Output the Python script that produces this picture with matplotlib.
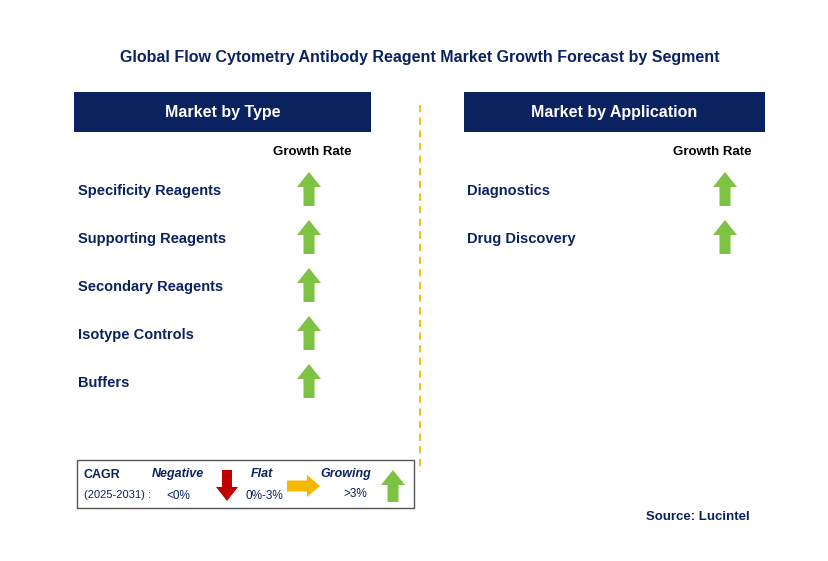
import matplotlib
matplotlib.use("Agg")
import matplotlib.pyplot as plt
from matplotlib.patches import Rectangle, FancyArrow

NAVY = "#0b2260"
GREEN = "#7dc243"
RED = "#c00000"
ORANGE = "#f5b800"

TITLE = "Global Flow Cytometry Antibody Reagent Market Growth Forecast by Segment"
type_labels = ["Specificity Reagents", "Supporting Reagents", "Secondary Reagents",
               "Isotype Controls", "Buffers"]
type_growth = ["up", "up", "up", "up", "up"]
app_labels = ["Diagnostics", "Drug Discovery"]
app_growth = ["up", "up"]

plt.rcParams["font.family"] = "Liberation Sans"

fig = plt.figure(figsize=(8.29, 5.61), dpi=100)
ax = fig.add_axes([0, 0, 1, 1])
ax.set_xlim(0, 829)
ax.set_ylim(561, 0)
ax.axis("off")


def up_arrow(x, yc, color=GREEN, h=34):
    ax.add_patch(FancyArrow(x, yc + h / 2, 0, -h, width=11, head_width=24,
                            head_length=15, length_includes_head=True,
                            color=color, lw=0))


ax.text(420, 57, TITLE, ha="center", va="center", fontsize=11.5,
        fontweight="bold", color=NAVY)

for x0, x1, head in [(74, 371, "Market by Type"), (464, 765, "Market by Application")]:
    ax.add_patch(Rectangle((x0, 92), x1 - x0, 40, color=NAVY, lw=0))
    ax.text((x0 + x1) / 2, 112, head, ha="center", va="center", fontsize=11.5,
            fontweight="bold", color="white")

ax.text(312, 152, "Growth Rate", ha="center", va="center", fontsize=9.5,
        fontweight="bold", color="black")
ax.text(712, 152, "Growth Rate", ha="center", va="center", fontsize=9.5,
        fontweight="bold", color="black")

for i, (lab, g) in enumerate(zip(type_labels, type_growth)):
    y = 191 + 48 * i
    ax.text(78, y, lab, ha="left", va="center", fontsize=10.5,
            fontweight="bold", color=NAVY)
    up_arrow(309, y - 2)

for i, (lab, g) in enumerate(zip(app_labels, app_growth)):
    y = 191 + 48 * i
    ax.text(467, y, lab, ha="left", va="center", fontsize=10.5,
            fontweight="bold", color=NAVY)
    up_arrow(725, y - 2)

ax.plot([420, 420], [105, 472], ls=(0, (4, 3)), color=ORANGE, lw=1.3)

# legend box
ax.add_patch(Rectangle((77, 460), 337, 48, fill=False, ec="#555555", lw=1))
ax.text(84, 475, "CAGR", ha="left", va="center", fontsize=9, fontweight="bold", color=NAVY)
ax.text(84, 495, "(2025-2031) :", ha="left", va="center", fontsize=8, color=NAVY)
ax.text(178, 474, "Negative", ha="center", va="center", fontsize=9,
        fontweight="bold", style="italic", color=NAVY)
ax.text(178, 496, "<0%", ha="center", va="center", fontsize=8.5, color=NAVY)
ax.add_patch(FancyArrow(227, 470, 0, 31, width=10, head_width=22, head_length=14,
                        length_includes_head=True, color=RED, lw=0))
ax.text(262, 474, "Flat", ha="center", va="center", fontsize=9,
        fontweight="bold", style="italic", color=NAVY)
ax.text(264, 496, "0%-3%", ha="center", va="center", fontsize=8.5, color=NAVY)
ax.add_patch(FancyArrow(287, 486, 33, 0, width=11, head_width=22, head_length=13,
                        length_includes_head=True, color=ORANGE, lw=0))
ax.text(346, 474, "Growing", ha="center", va="center", fontsize=9,
        fontweight="bold", style="italic", color=NAVY)
ax.text(355, 494, ">3%", ha="center", va="center", fontsize=8.5, color=NAVY)
up_arrow(393, 486, h=32)

ax.text(750, 517, "Source: Lucintel", ha="right", va="center", fontsize=9.5,
        fontweight="bold", color=NAVY)

fig.savefig("out.png", dpi=100)
